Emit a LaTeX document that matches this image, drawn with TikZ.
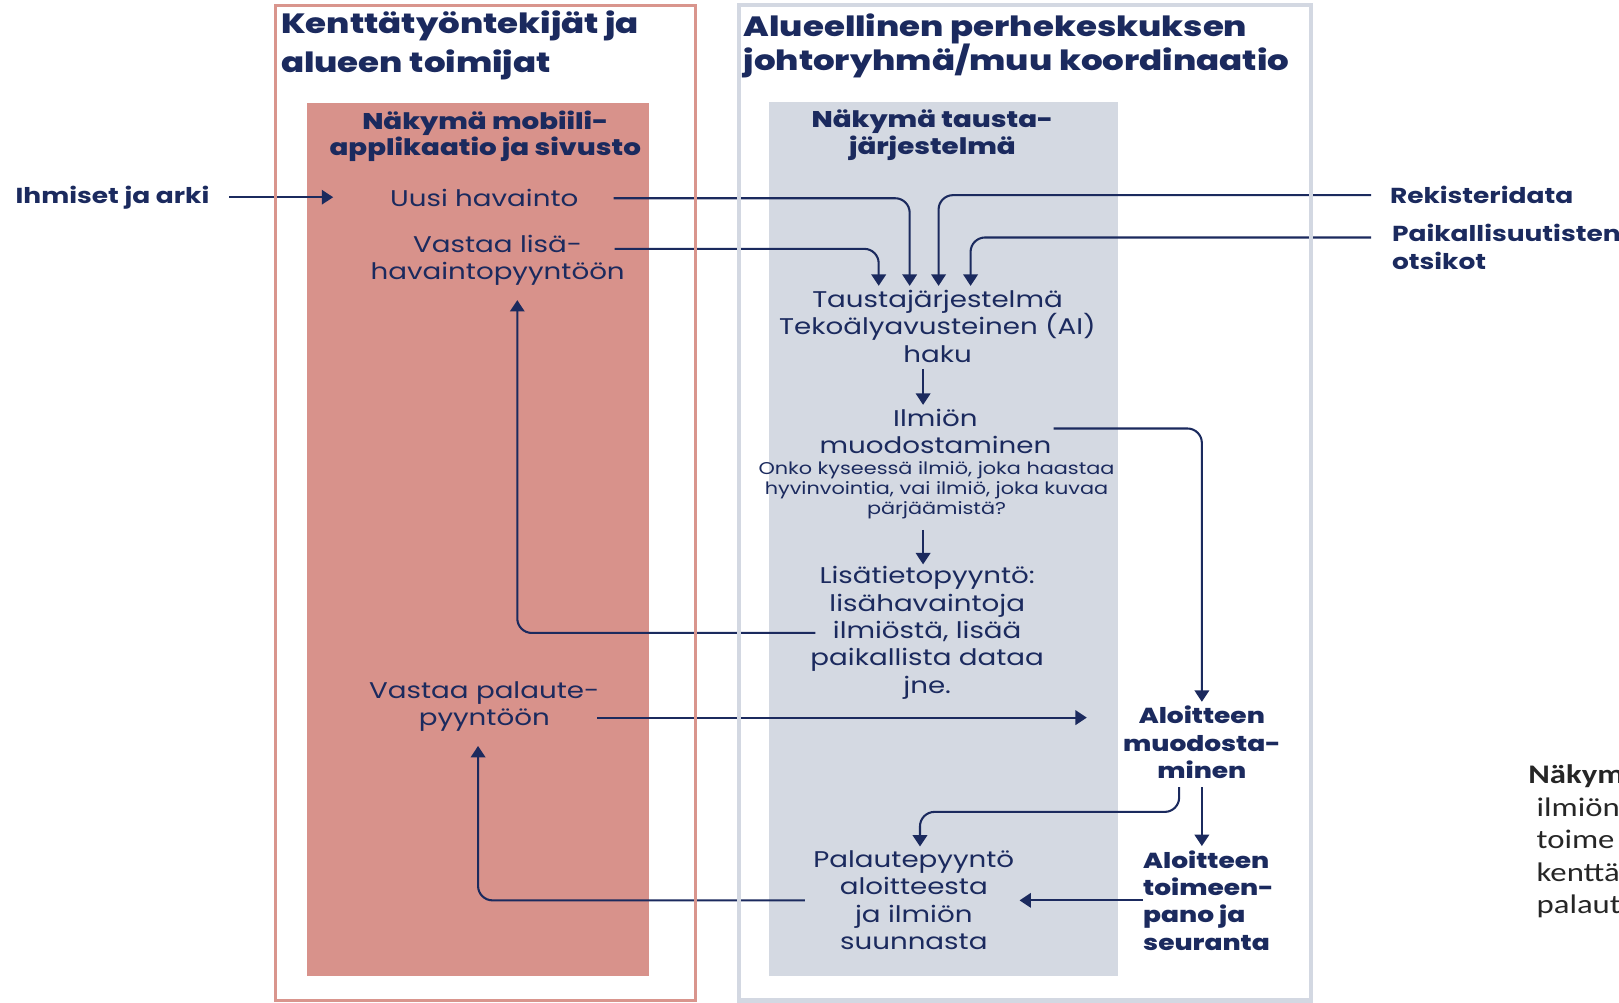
\documentclass[tikz,border=0pt]{standalone}
\usepackage{fontspec}
\setmainfont{Poppins}[FakeStretch=1.22]
\newfontfamily\heavyfont{Poppins ExtraBold}[FakeStretch=1.22]
\newfontfamily\calfont{Carlito}[FakeStretch=1.22]
\usetikzlibrary{arrows.meta,calc}
\definecolor{navy}{HTML}{1B2A5E}
\definecolor{rosefill}{HTML}{D8928B}
\definecolor{roseline}{HTML}{D9958D}
\definecolor{greyfill}{HTML}{D4D9E2}
\definecolor{greyline}{HTML}{D3D8E2}
\tikzset{
	txt/.style={text=navy, align=center, inner sep=0pt, font=\fontsize{22}{26.5}\selectfont},
	small txt/.style={txt, font=\fontsize{16.5}{19.5}\selectfont},
	side/.style={text=navy, align=left, inner sep=0pt, font=\bfseries\fontsize{21}{27}\selectfont},
	head/.style={text=navy, align=left, inner sep=0pt, font=\heavyfont\fontsize{27}{38}\selectfont},
	subhead/.style={text=navy, align=center, inner sep=0pt, font=\heavyfont\fontsize{22}{26}\selectfont},
	stage/.style={text=navy, align=center, inner sep=0pt, font=\heavyfont\fontsize{21}{26.5}\selectfont},
	arr/.style={draw=navy, line width=2pt, rounded corners=14pt, -{Triangle[width=14pt,length=11pt]}},
}

\begin{document}
\begin{tikzpicture}[x=1pt, y=-1pt]
		%%%%% START %%%%%
		\useasboundingbox (0, 0) rectangle (1568, 971);
		
		\fill[rosefill] (297, 100) rectangle (629, 945);
		\fill[greyfill] (745, 99) rectangle (1083, 945);
		
		\node[head, anchor=west] (kentta) at (272, 44) {Kenttätyöntekijät ja\\alueen toimijat};
		\node[head, anchor=west, font=\heavyfont\fontsize{27}{33}\selectfont] (alue) at (720, 44) {Alueellinen perhekeskuksen\\johtoryhmä/muu koordinaatio};
		\node[subhead] (mobhead) at (470, 132) {Näkymä mobiili-\\applikaatio ja sivusto};
		\node[subhead] (taushead) at (903, 131) {Näkymä tausta-\\järjestelmä};
		
		\node[side, anchor=west] (ihmiset) at (15, 191) {Ihmiset ja arki};
		\node[txt] (uusi) at (469, 192) {Uusi havainto};
		\node[txt] (lisa) at (482, 252) {Vastaa lisä-\\havaintopyyntöön};
		\node[txt] (palaute) at (469, 684) {Vastaa palaute-\\pyyntöön};
		
		\node[txt] (tausta) at (908, 316) {Taustajärjestelmä\\Tekoälyavusteinen (AI)\\haku};
		\node[txt] (ilmio) at (906, 418) {Ilmiön\\muodostaminen};
		\node[small txt] (onko) at (907, 475) {Onko kyseessä ilmiö, joka haastaa\\hyvinvointia, vai ilmiö, joka kuvaa\\pärjäämistä?};
		\node[txt] (lisatieto) at (898, 613) {Lisätietopyyntö:\\lisähavaintoja\\ilmiöstä, lisää\\paikallista dataa\\jne.};
		\node[txt] (palpyynto) at (885, 872) {Palautepyyntö\\aloitteesta\\ja ilmiön\\suunnasta};
		
		\node[stage] (aloite) at (1164, 719) {Aloitteen\\muodosta-\\minen};
		\node[stage, align=left, anchor=west] (toimeen) at (1107, 872) {Aloitteen\\toimeen-\\pano ja\\seuranta};
		
		\node[side, anchor=west] (rekisteri) at (1346, 189) {Rekisteridata};
		\node[side, anchor=west] (paikallis) at (1348, 239) {Paikallisuutisten\\otsikot};
		
		\node[anchor=west, align=left, inner sep=0pt, text=black!85, font=\calfont\fontsize{26}{31.5}\selectfont] (nakyma) at (1480, 815) {\textbf{Näkym}\\\hspace*{8pt}ilmiön\\\hspace*{8pt}toime\\\hspace*{8pt}kenttä\\\hspace*{8pt}palaut};
		
		% inputs
		\draw[arr] ([xshift=19pt]ihmiset.east) -- ([xshift=-55pt]uusi.west |- ihmiset.east);
		\draw[arr] ([xshift=34pt]uusi.east) -| ([xshift=-27pt,yshift=4pt]tausta.north);
		\draw[arr] ([xshift=-10pt,yshift=11pt]lisa.east) -| ([xshift=-57pt,yshift=4pt]tausta.north);
		\draw[arr] ([xshift=-18pt]rekisteri.west) -| ([xshift=1pt,yshift=4pt]tausta.north);
		\draw[arr] ([xshift=-20pt,yshift=9pt]paikallis.west) -| ([xshift=32pt,yshift=4pt]tausta.north);
		
		% backend chain
		\draw[arr] ([xshift=-14pt,yshift=-6pt]tausta.south) -- ([xshift=-12pt,yshift=4pt]ilmio.north);
		\draw[arr] ([xshift=-13pt,yshift=-10pt]onko.south) -- ([xshift=-4pt,yshift=2pt]lisatieto.north);
		\draw[arr] ([xshift=2pt,yshift=3pt]ilmio.east) -| ([yshift=4pt]aloite.north);
		\draw[arr] ([xshift=5pt]lisatieto.west) -| ([xshift=19pt,yshift=-14pt]lisa.south);
		\draw[arr] ([xshift=-2pt,yshift=-11pt]palaute.east) -- ([xshift=-35pt,yshift=24pt]aloite.west);
		
		% initiative
		\draw[arr] ([xshift=-22pt,yshift=-8pt]aloite.south) -- ++(0, 24) -| ([xshift=6pt,yshift=4pt]palpyynto.north);
		\draw[arr] ([yshift=-8pt]aloite.south) -- ([yshift=4pt]aloite.south |- toimeen.north);
		\draw[arr] (toimeen.west) -- ([xshift=5pt]palpyynto.east |- toimeen.west);
		\draw[arr] ([xshift=-8pt]palpyynto.west) -| ([xshift=-6pt,yshift=-14pt]palaute.south);
		
		\draw[roseline, line width=3pt] (267, 5) rectangle (674, 969);
		\draw[greyline, line width=4pt] (716, 5) rectangle (1270, 969);
		%%%%% END %%%%%
	\end{tikzpicture}
\end{document}
